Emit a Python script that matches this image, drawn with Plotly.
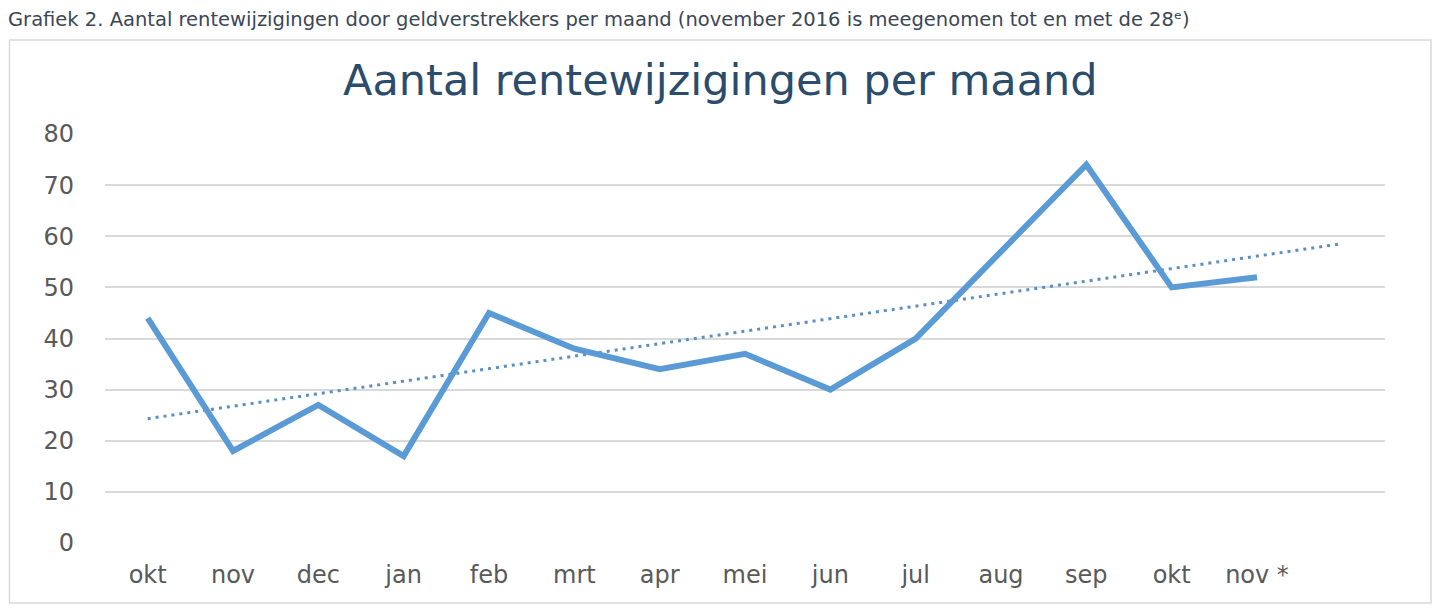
import numpy as np
import plotly.graph_objects as go

months = ["okt", "nov", "dec", "jan", "feb", "mrt", "apr", "mei", "jun", "jul", "aug", "sep", "okt", "nov *"]
counts = [44, 18, 27, 17, 45, 38, 34, 37, 30, 40, 57, 74, 50, 52]
y_ticks = [0, 10, 20, 30, 40, 50, 60, 70, 80]
forecast_periods = 1

caption = "Grafiek 2. Aantal rentewijzigingen door geldverstrekkers per maand (november 2016 is meegenomen tot en met de 28ᵉ)"
title = "Aantal rentewijzigingen per maand"

x = np.arange(len(counts))
slope, intercept = np.polyfit(x, counts, 1)
x_trend = np.array([0, len(counts) - 1 + forecast_periods])
y_trend = slope * x_trend + intercept

LINE = "#5B9BD5"
fig = go.Figure()
fig.add_trace(go.Scatter(x=x_trend, y=y_trend, mode="lines",
                         line=dict(color="#5A8FC4", width=3, dash="3px,5px"),
                         hoverinfo="skip", showlegend=False))
fig.add_trace(go.Scatter(x=x, y=counts, mode="lines",
                         line=dict(color=LINE, width=6),
                         showlegend=False))

OFF = 8  # page body margin
W, H = 1440 - OFF, 612 - OFF
L, R, T, B = 105 - OFF, 55, 134 - OFF, 69
pw, ph = W - L - R, H - T - B

def px(xp):
    return (xp - OFF - L) / pw

def py(yp):
    return (H - B - (yp - OFF)) / ph

fig.add_shape(type="rect", xref="paper", yref="paper",
              x0=px(9.5), x1=px(1431), y0=py(603), y1=py(40),
              line=dict(color="#D9D9D9", width=1.5), fillcolor="rgba(0,0,0,0)", layer="below")

fig.add_annotation(text=caption, xref="paper", yref="paper", x=px(6), y=py(20),
                   xanchor="left", yanchor="middle", showarrow=False,
                   font=dict(family="DejaVu Sans, sans-serif", size=19.5, color="#3B4656"))
fig.add_annotation(text=title, xref="paper", yref="paper", x=px(720), y=py(80),
                   xanchor="center", yanchor="middle", showarrow=False,
                   font=dict(family="DejaVu Sans, sans-serif", size=43, color="#2B4C6B"))

fig.update_layout(
    width=W, height=H,
    margin=dict(l=L, r=R, t=T, b=B),
    paper_bgcolor="white", plot_bgcolor="white",
    xaxis=dict(range=[-0.5, len(counts) - 0.5 + forecast_periods],
               tickvals=list(x), ticktext=months, showgrid=False, zeroline=False,
               showline=False, ticks="", ticklabelstandoff=15,
               tickfont=dict(family="DejaVu Sans, sans-serif", size=24, color="#595959")),
    yaxis=dict(range=[0, 80], tickvals=y_ticks, showgrid=True, gridcolor="#D9D9D9",
               gridwidth=2, zeroline=False, showline=False, ticks="",
               ticklabelstandoff=30,
               tickfont=dict(family="DejaVu Sans, sans-serif", size=24, color="#595959")),
)

fig.write_html("out.html")
